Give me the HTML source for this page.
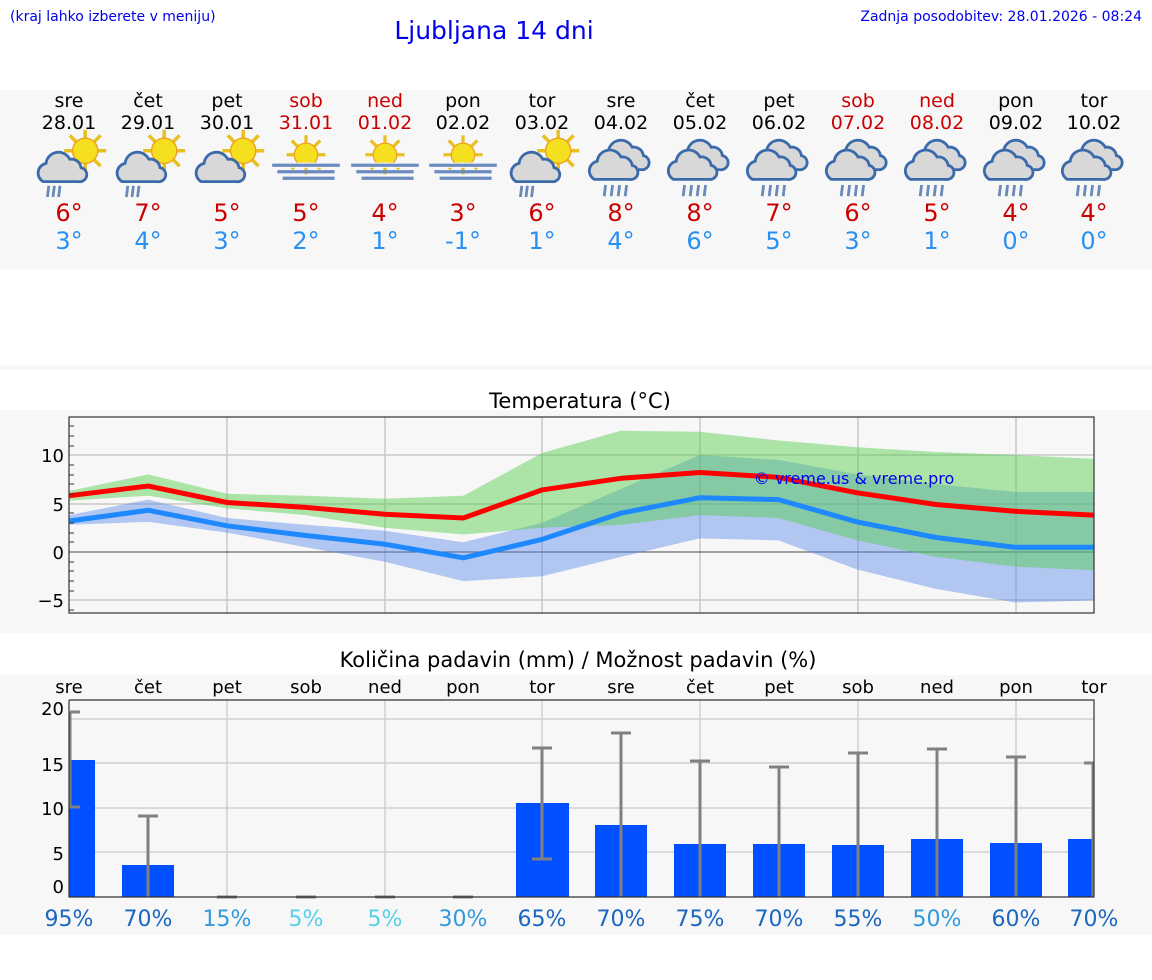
<!DOCTYPE html>
<html><head><meta charset="utf-8"><style>
body{margin:0;background:#fff;width:1152px;height:975px;overflow:hidden}
svg text{font-family:"DejaVu Sans","Liberation Sans",sans-serif}
</style></head><body>
<svg width="1152" height="975" viewBox="0 0 1152 975" xmlns="http://www.w3.org/2000/svg">
<defs>
<g id="sun"><g stroke="#e8c020" stroke-width="2.5"><line x1="0" y1="-15" x2="0" y2="15"/><line x1="-15" y1="0" x2="15" y2="0"/><line x1="-11" y1="-11" x2="11" y2="11"/><line x1="-11" y1="11" x2="11" y2="-11"/></g><circle r="9" fill="#f5e020" stroke="#f0a020" stroke-width="1"/></g>
<path id="cl" d="M-16,10 a7,7 0 0 1 2,-13 a9,9 0 0 1 17,-3 a7,7 0 0 1 8,6 a5,5 0 0 1 -2,10 z" fill="#d8d8d8" stroke="#3a6aaa" stroke-width="2"/>
<g id="sc"><use href="#sun" x="8" y="-8"/><use href="#cl" x="-6" y="4"/></g>
<g id="scr"><use href="#sc"/><g stroke="#6a8ab8" stroke-width="2"><line x1="-18" y1="17" x2="-19" y2="25"/><line x1="-14" y1="17" x2="-15" y2="25"/><line x1="-10" y1="17" x2="-11" y2="25"/></g></g>
<g id="sf"><use href="#sun" x="0" y="-4"/><rect x="-26" y="2" width="52" height="4" fill="#fafafa"/><g stroke="#6a8ac0" stroke-width="2.5"><line x1="-26" y1="4" x2="26" y2="4"/><line x1="-22" y1="9" x2="22" y2="9"/><line x1="-18" y1="14" x2="22" y2="14"/></g></g>
<g id="rr"><use href="#cl" x="5" y="-6"/><use href="#cl" x="-3" y="1"/><g stroke="#6a8ab8" stroke-width="2"><line x1="-11" y1="15" x2="-12" y2="23"/><line x1="-6" y1="15" x2="-7" y2="23"/><line x1="-1" y1="15" x2="-2" y2="23"/><line x1="4" y1="15" x2="3" y2="23"/></g></g>
</defs>
<text x="10" y="21" font-size="14" fill="#0000ee">(kraj lahko izberete v meniju)</text>
<text x="494" y="39" font-size="25" fill="#0000ee" text-anchor="middle">Ljubljana 14 dni</text>
<text x="1142" y="21" font-size="14" fill="#0000ee" text-anchor="end">Zadnja posodobitev: 28.01.2026 - 08:24</text>
<rect x="0" y="90" width="1152" height="179" fill="#f7f7f7"/>
<g font-size="19" text-anchor="middle">
<g fill="#000"><text x="69" y="107">sre</text><text x="148" y="107">čet</text><text x="227" y="107">pet</text><text x="463" y="107">pon</text><text x="542" y="107">tor</text><text x="621" y="107">sre</text><text x="700" y="107">čet</text><text x="779" y="107">pet</text><text x="1016" y="107">pon</text><text x="1094" y="107">tor</text>
<text x="69" y="129">28.01</text><text x="148" y="129">29.01</text><text x="227" y="129">30.01</text><text x="463" y="129">02.02</text><text x="542" y="129">03.02</text><text x="621" y="129">04.02</text><text x="700" y="129">05.02</text><text x="779" y="129">06.02</text><text x="1016" y="129">09.02</text><text x="1094" y="129">10.02</text></g>
<g fill="#cc0000"><text x="306" y="107">sob</text><text x="385" y="107">ned</text><text x="858" y="107">sob</text><text x="937" y="107">ned</text><text x="306" y="129">31.01</text><text x="385" y="129">01.02</text><text x="858" y="129">07.02</text><text x="937" y="129">08.02</text></g>
</g>
<use href="#scr" transform="translate(74,162) scale(1.4)"/><use href="#scr" transform="translate(153,162) scale(1.4)"/><use href="#sc" transform="translate(232,162) scale(1.4)"/><use href="#sf" transform="translate(306,160) scale(1.3)"/><use href="#sf" transform="translate(385,160) scale(1.3)"/><use href="#sf" transform="translate(463,160) scale(1.3)"/><use href="#scr" transform="translate(547,162) scale(1.4)"/>
<use href="#rr" transform="translate(621,164) scale(1.4)"/><use href="#rr" transform="translate(700,164) scale(1.4)"/><use href="#rr" transform="translate(779,164) scale(1.4)"/><use href="#rr" transform="translate(858,164) scale(1.4)"/><use href="#rr" transform="translate(937,164) scale(1.4)"/><use href="#rr" transform="translate(1016,164) scale(1.4)"/><use href="#rr" transform="translate(1094,164) scale(1.4)"/>
<g font-size="24" text-anchor="middle" fill="#cc0000"><text x="69" y="221">6°</text><text x="148" y="221">7°</text><text x="227" y="221">5°</text><text x="306" y="221">5°</text><text x="385" y="221">4°</text><text x="463" y="221">3°</text><text x="542" y="221">6°</text><text x="621" y="221">8°</text><text x="700" y="221">8°</text><text x="779" y="221">7°</text><text x="858" y="221">6°</text><text x="937" y="221">5°</text><text x="1016" y="221">4°</text><text x="1094" y="221">4°</text></g>
<g font-size="24" text-anchor="middle" fill="#2a90f0"><text x="69" y="249">3°</text><text x="148" y="249">4°</text><text x="227" y="249">3°</text><text x="306" y="249">2°</text><text x="385" y="249">1°</text><text x="463" y="249">-1°</text><text x="542" y="249">1°</text><text x="621" y="249">4°</text><text x="700" y="249">6°</text><text x="779" y="249">5°</text><text x="858" y="249">3°</text><text x="937" y="249">1°</text><text x="1016" y="249">0°</text><text x="1094" y="249">0°</text></g>
<rect x="0" y="365" width="1152" height="5" fill="#f7f7f7"/>
<text x="580" y="408" font-size="21" text-anchor="middle">Temperatura (°C)</text>
<rect x="0" y="410" width="1152" height="223" fill="#f7f7f7"/>
<g stroke="#c8c8c8" stroke-width="1.5"><line x1="69" y1="455" x2="1094" y2="455"/><line x1="69" y1="504" x2="1094" y2="504"/><line x1="69" y1="600" x2="1094" y2="600"/>
<line x1="227" y1="417" x2="227" y2="613"/><line x1="385" y1="417" x2="385" y2="613"/><line x1="542" y1="417" x2="542" y2="613"/><line x1="700" y1="417" x2="700" y2="613"/><line x1="858" y1="417" x2="858" y2="613"/><line x1="1016" y1="417" x2="1016" y2="613"/></g>
<line x1="69" y1="552" x2="1094" y2="552" stroke="#444" stroke-width="1"/>
<polygon fill="rgb(90,140,235)" fill-opacity="0.45" points="69.5,515.1 148.3,499.6 227,518 305.8,524.8 384.6,530.7 463.4,542.3 542.1,522.9 620.9,489 699.7,455 778.4,459.9 857.2,474.4 936,484.1 1014.7,491.9 1093.5,491.9 1093.5,600.5 1014.7,602.4 936,588.9 857.2,569.5 778.4,540.4 699.7,538.4 620.9,556.9 542.1,576.3 463.4,581.1 384.6,561.7 305.8,547.2 227,532.6 148.3,521.9 69.5,524.8"/>
<polygon fill="rgb(80,205,70)" fill-opacity="0.45" points="69.5,490.9 148.3,474.4 227,493.8 305.8,495.7 384.6,498.7 463.4,495.7 542.1,453 620.9,430.8 699.7,431.7 778.4,440.5 857.2,447.2 936,452 1014.7,455 1093.5,458.9 1093.5,570.4 1014.7,566.6 936,556.9 857.2,540.4 778.4,518 699.7,515.1 620.9,524.8 542.1,527.8 463.4,534.5 384.6,527.8 305.8,515.1 227,508.4 148.3,495.7 69.5,500.6"/>
<polyline fill="none" stroke="#1e88ff" stroke-width="5" points="69.5,521 148.3,510.3 227,525.8 305.8,535.5 384.6,544.2 463.4,557.8 542.1,539.4 620.9,513.2 699.7,497.7 778.4,499.6 857.2,521.9 936,537.5 1014.7,547.2 1093.5,547.2"/>
<polyline fill="none" stroke="#ff0000" stroke-width="5" points="69.5,495.7 148.3,486 227,502.5 305.8,507.4 384.6,514.2 463.4,518 542.1,489.9 620.9,478.3 699.7,472.5 778.4,477.3 857.2,492.8 936,504.5 1014.7,511.3 1093.5,515.1"/>
<text x="854" y="484" font-size="16" fill="#0000ee" text-anchor="middle">© vreme.us &amp; vreme.pro</text>
<rect x="69" y="417" width="1025" height="196" fill="none" stroke="#333" stroke-width="1.2"/>
<g stroke="#333" stroke-width="1"><line x1="69" y1="426" x2="74" y2="426"/><line x1="69" y1="436" x2="74" y2="436"/><line x1="69" y1="446" x2="74" y2="446"/><line x1="69" y1="465" x2="74" y2="465"/><line x1="69" y1="475" x2="74" y2="475"/><line x1="69" y1="484" x2="74" y2="484"/><line x1="69" y1="494" x2="74" y2="494"/><line x1="69" y1="513" x2="74" y2="513"/><line x1="69" y1="523" x2="74" y2="523"/><line x1="69" y1="533" x2="74" y2="533"/><line x1="69" y1="542" x2="74" y2="542"/><line x1="69" y1="562" x2="74" y2="562"/><line x1="69" y1="571" x2="74" y2="571"/><line x1="69" y1="581" x2="74" y2="581"/><line x1="69" y1="591" x2="74" y2="591"/><line x1="69" y1="610" x2="74" y2="610"/></g>
<g font-size="18" text-anchor="end"><text x="64" y="462">10</text><text x="64" y="511">5</text><text x="64" y="559">0</text><text x="64" y="607">−5</text></g>
<text x="578" y="667" font-size="21" text-anchor="middle">Količina padavin (mm) / Možnost padavin (%)</text>
<rect x="0" y="675" width="1152" height="260" fill="#f7f7f7"/>
<g font-size="18" text-anchor="middle"><text x="69" y="693">sre</text><text x="148" y="693">čet</text><text x="227" y="693">pet</text><text x="306" y="693">sob</text><text x="385" y="693">ned</text><text x="463" y="693">pon</text><text x="542" y="693">tor</text><text x="621" y="693">sre</text><text x="700" y="693">čet</text><text x="779" y="693">pet</text><text x="858" y="693">sob</text><text x="937" y="693">ned</text><text x="1016" y="693">pon</text><text x="1094" y="693">tor</text></g>
<g stroke="#d0d0d0" stroke-width="1.5"><line x1="69" y1="719" x2="1094" y2="719"/><line x1="69" y1="763" x2="1094" y2="763"/><line x1="69" y1="808" x2="1094" y2="808"/><line x1="69" y1="852" x2="1094" y2="852"/>
<line x1="227" y1="700" x2="227" y2="897"/><line x1="385" y1="700" x2="385" y2="897"/><line x1="542" y1="700" x2="542" y2="897"/><line x1="700" y1="700" x2="700" y2="897"/><line x1="858" y1="700" x2="858" y2="897"/><line x1="1016" y1="700" x2="1016" y2="897"/></g>
<g fill="#0050ff"><rect x="69" y="760" width="26" height="137"/><rect x="122" y="865" width="52" height="32"/><rect x="516" y="803" width="53" height="94"/><rect x="595" y="825" width="52" height="72"/><rect x="674" y="844" width="52" height="53"/><rect x="753" y="844" width="52" height="53"/><rect x="832" y="845" width="52" height="52"/><rect x="911" y="839" width="52" height="58"/><rect x="990" y="843" width="52" height="54"/><rect x="1068" y="839" width="26" height="58"/></g>
<g stroke="#808080" stroke-width="3" fill="none"><path d="M70,712 h10 M70,712 V807 h10"/><path d="M138,816 h20 M148,816 V897"/>
<path d="M532,748 h20 M542,748 V859 M532,859 h20"/><path d="M611,733 h20 M621,733 V897"/><path d="M690,761 h20 M700,761 V897"/><path d="M769,767 h20 M779,767 V897"/><path d="M848,753 h20 M858,753 V897"/><path d="M927,749 h20 M937,749 V897"/><path d="M1006,757 h20 M1016,757 V897"/><path d="M1084,763 h10 M1093,763 V897"/>
<path d="M217,897 h20 M296,897 h20 M375,897 h20 M453,897 h20"/></g>
<polyline fill="none" stroke="#333" stroke-width="1.2" points="69,700 69,897 1094,897 1094,700 69,700"/>
<g font-size="18" text-anchor="end"><text x="64" y="715">20</text><text x="64" y="771">15</text><text x="64" y="815">10</text><text x="64" y="860">5</text><text x="64" y="893">0</text></g>
<g font-size="22" text-anchor="middle"><text x="69" y="926" fill="#1a66c0">95%</text><text x="148" y="926" fill="#1a66c0">70%</text><text x="227" y="926" fill="#3399dd">15%</text><text x="306" y="926" fill="#55d0ea">5%</text><text x="385" y="926" fill="#55d0ea">5%</text><text x="463" y="926" fill="#3399dd">30%</text><text x="542" y="926" fill="#1a66c0">65%</text><text x="621" y="926" fill="#1a66c0">70%</text><text x="700" y="926" fill="#1a66c0">75%</text><text x="779" y="926" fill="#1a66c0">70%</text><text x="858" y="926" fill="#1a66c0">55%</text><text x="937" y="926" fill="#3399dd">50%</text><text x="1016" y="926" fill="#1a66c0">60%</text><text x="1094" y="926" fill="#1a66c0">70%</text></g>
</svg>
</body></html>
